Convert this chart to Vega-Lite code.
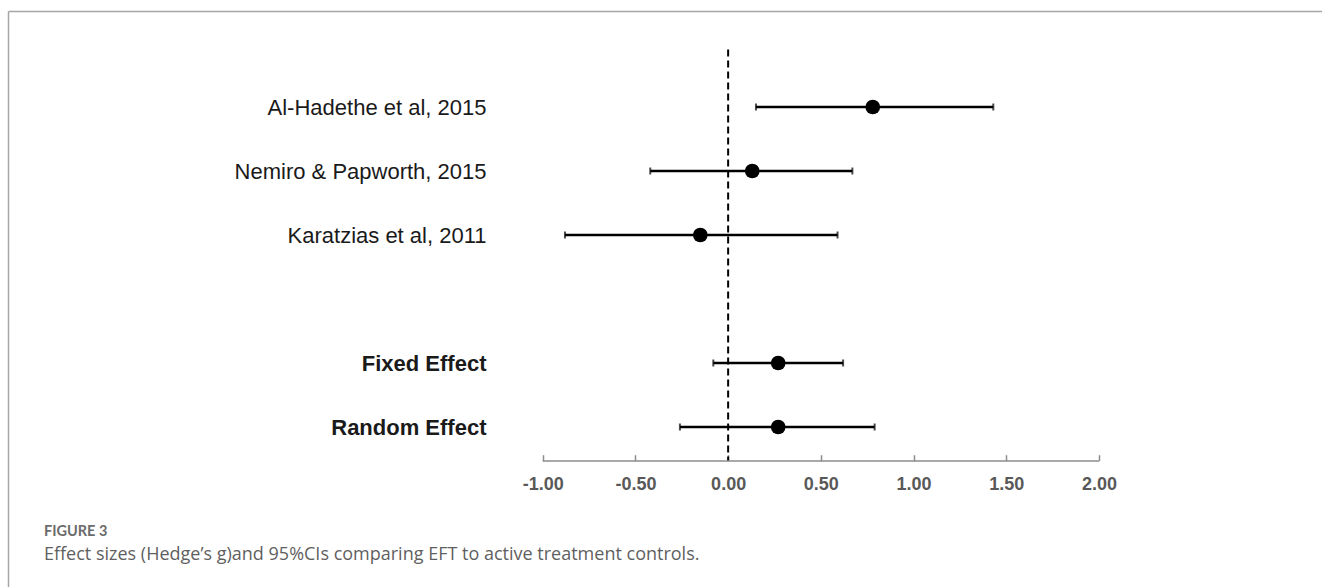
{
  "$schema": "https://vega.github.io/schema/vega-lite/v6.json",
  "width": 1322,
  "height": 587,
  "autosize": {"type": "fit", "contains": "padding"},
  "padding": {"left": 8, "top": 11, "right": 0, "bottom": 0},
  "background": "white",
  "config": {"view": {"stroke": null}, "font": "Liberation Sans"},
  "title": {
    "text": "FIGURE 3",
    "subtitle": "Effect sizes (Hedge’s g)and 95%CIs comparing EFT to active treatment controls.",
    "orient": "bottom",
    "anchor": "start",
    "frame": "group",
    "offset": -62,
    "dx": 36,
    "font": "Lato",
    "fontSize": 14.5,
    "fontWeight": "bold",
    "color": "#6b6b6b",
    "subtitleFont": "Open Sans",
    "subtitleFontSize": 18,
    "subtitleColor": "#5f5f5f",
    "subtitlePadding": 6
  },
  "datasets": {
    "studies": [
      {"study": "Al-Hadethe et al, 2015", "g": 0.78, "lo": 0.15, "hi": 1.43},
      {"study": "Nemiro & Papworth, 2015", "g": 0.13, "lo": -0.42, "hi": 0.67},
      {"study": "Karatzias et al, 2011", "g": -0.15, "lo": -0.88, "hi": 0.59},
      {"study": "Fixed Effect", "g": 0.27, "lo": -0.08, "hi": 0.62},
      {"study": "Random Effect", "g": 0.27, "lo": -0.26, "hi": 0.79}
    ],
    "refline": [{"x": 0, "v": 0.1, "v2": 6.53}],
    "axisline": [{"from": -1, "to": 2, "v": 6.53}]
  },
  "resolve": {"scale": {"y": "independent"}, "axis": {"x": "independent", "y": "independent"}},
  "layer": [
    {
      "data": {"name": "studies"},
      "encoding": {
        "y": {
          "field": "study",
          "type": "nominal",
          "scale": {
            "type": "point",
            "domain": [" ", "Al-Hadethe et al, 2015", "Nemiro & Papworth, 2015", "Karatzias et al, 2011", "  ", "Fixed Effect", "Random Effect", "   ", "    "],
            "padding": 0.5
          },
          "axis": {
            "orient": "left",
            "domain": true,
            "domainColor": "#a6a6a6",
            "domainWidth": 1.5,
            "ticks": false,
            "grid": false,
            "labelAlign": "right",
            "labelPadding": -478,
            "labelFontSize": 22,
            "labelColor": "#1a1a1a",
            "labelFont": "Liberation Sans",
            "labelLimit": 500,
            "labelOverlap": false,
            "labelFontWeight": {"condition": {"test": "indexof(datum.value, 'Effect') >= 0", "value": "bold"}, "value": "normal"},
            "title": null
          }
        }
      },
      "layer": [
        {
          "mark": {"type": "rule", "color": "black", "strokeWidth": 2.5},
          "encoding": {
            "x": {
              "field": "lo", "type": "quantitative",
              "scale": {"domain": [-3.8836, 3.2026], "nice": false, "zero": false},
              "axis": {"orient": "bottom", "values": [-1, -0.5, 0, 0.5, 1, 1.5, 2], "labelExpr": "replace(format(datum.value, '.2f'), '\u2212', '-')", "domain": false, "grid": false, "offset": -126.3, "tickSize": -6, "tickColor": "#8c8c8c", "tickWidth": 1.5, "labelPadding": 21, "labelFontSize": 18, "labelFontWeight": "bold", "labelColor": "#595959", "labelFont": "Liberation Sans", "labelFlush": false, "labelOverlap": false, "title": null}
            },
            "x2": {"field": "hi"}
          }
        },
        {
          "mark": {"type": "tick", "orient": "vertical", "size": 7, "thickness": 2, "color": "black"},
          "encoding": {
            "x": {
              "field": "lo", "type": "quantitative",
              "axis": {"orient": "bottom", "values": [-1, -0.5, 0, 0.5, 1, 1.5, 2], "labelExpr": "replace(format(datum.value, '.2f'), '\u2212', '-')", "domain": false, "grid": false, "offset": -126.3, "tickSize": -6, "tickColor": "#8c8c8c", "tickWidth": 1.5, "labelPadding": 21, "labelFontSize": 18, "labelFontWeight": "bold", "labelColor": "#595959", "labelFont": "Liberation Sans", "labelFlush": false, "labelOverlap": false, "title": null}
            }
          }
        },
        {
          "mark": {"type": "tick", "orient": "vertical", "size": 7, "thickness": 2, "color": "black"},
          "encoding": {
            "x": {
              "field": "hi", "type": "quantitative",
              "axis": {"orient": "bottom", "values": [-1, -0.5, 0, 0.5, 1, 1.5, 2], "labelExpr": "replace(format(datum.value, '.2f'), '\u2212', '-')", "domain": false, "grid": false, "offset": -126.3, "tickSize": -6, "tickColor": "#8c8c8c", "tickWidth": 1.5, "labelPadding": 21, "labelFontSize": 18, "labelFontWeight": "bold", "labelColor": "#595959", "labelFont": "Liberation Sans", "labelFlush": false, "labelOverlap": false, "title": null}
            }
          }
        },
        {
          "mark": {"type": "circle", "size": 215, "color": "black", "opacity": 1},
          "encoding": {
            "x": {
              "field": "g", "type": "quantitative",
              "axis": {"orient": "bottom", "values": [-1, -0.5, 0, 0.5, 1, 1.5, 2], "labelExpr": "replace(format(datum.value, '.2f'), '\u2212', '-')", "domain": false, "grid": false, "offset": -126.3, "tickSize": -6, "tickColor": "#8c8c8c", "tickWidth": 1.5, "labelPadding": 21, "labelFontSize": 18, "labelFontWeight": "bold", "labelColor": "#595959", "labelFont": "Liberation Sans", "labelFlush": false, "labelOverlap": false, "title": null}
            }
          }
        }
      ]
    },
    {
      "layer": [
        {
          "data": {"name": "refline"},
          "mark": {"type": "rule", "color": "black", "strokeWidth": 2, "strokeDash": [7, 4]},
          "encoding": {
            "x": {"field": "x", "type": "quantitative", "axis": {"orient": "top", "domain": true, "domainColor": "#a6a6a6", "domainWidth": 1.5, "ticks": false, "labels": false, "grid": false, "title": null}},
            "y": {"field": "v", "type": "quantitative", "scale": {"domain": [-0.5, 8.5], "reverse": true, "nice": false, "zero": false}, "axis": null},
            "y2": {"field": "v2"}
          }
        },
        {
          "data": {"name": "axisline"},
          "mark": {"type": "rule", "color": "#8c8c8c", "strokeWidth": 1.5},
          "encoding": {
            "x": {"field": "from", "type": "quantitative", "axis": {"orient": "top", "domain": true, "domainColor": "#a6a6a6", "domainWidth": 1.5, "ticks": false, "labels": false, "grid": false, "title": null}},
            "x2": {"field": "to"},
            "y": {"field": "v", "type": "quantitative", "scale": {"domain": [-0.5, 8.5], "reverse": true, "nice": false, "zero": false}, "axis": null}
          }
        }
      ]
    }
  ]
}
